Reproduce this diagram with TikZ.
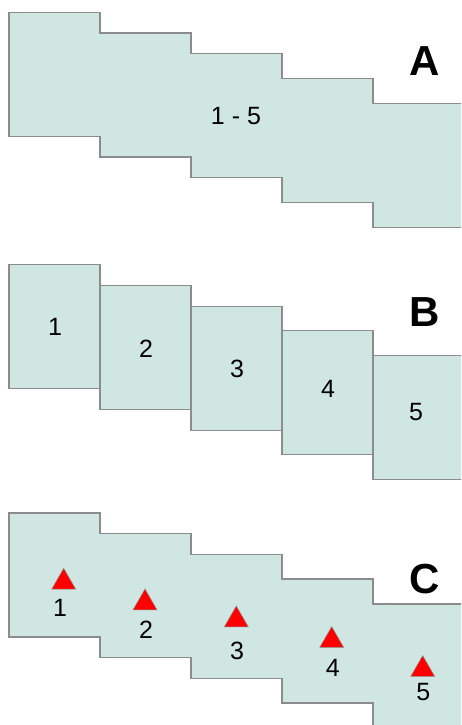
\documentclass[tikz,border=0pt]{standalone}
\usepackage{fontspec}
\setmainfont{Liberation Sans}
\usepackage{xcolor}
\usetikzlibrary{shapes.geometric}
\definecolor{plotFill}{RGB}{207,230,227}
\definecolor{edgeGray}{RGB}{140,140,140}
\definecolor{markRed}{RGB}{255,0,0}
\tikzset{
  plotcell/.style={fill=plotFill,draw=edgeGray,line width=1.1pt},
  treemark/.style={regular polygon,regular polygon sides=3,minimum size=27.7pt,inner sep=0pt,fill=markRed,draw=edgeGray,line width=0.5pt},
  numlabel/.style={font=\fontsize{25}{25}\selectfont,inner sep=0pt},
  panellabel/.style={font=\fontsize{42}{42}\selectfont\bfseries,inner sep=0pt}
}
% stepped plot outline, #1 = top of the first column
\newcommand{\StairPlot}[1]{%
  \draw[plotcell] (9,#1) -- (100,#1) -- (100,#1+20.7) -- (191,#1+20.7) -- (191,#1+41.5)
    -- (282,#1+41.5) -- (282,#1+66) -- (373,#1+66) -- (373,#1+91) -- (464,#1+91)
    -- (464,#1+215) -- (373,#1+215) -- (373,#1+190) -- (282,#1+190) -- (282,#1+165.5)
    -- (191,#1+165.5) -- (191,#1+144.7) -- (100,#1+144.7) -- (100,#1+124) -- (9,#1+124) -- cycle;}

\begin{document}
\begin{tikzpicture}[x=1pt,y=-1pt]
\clip (0,0) rectangle (461,725);
\fill[white] (0,0) rectangle (461,725);
% A: one plot
\StairPlot{12.3}
\node[numlabel] (rangeA) at (236,116) {1 - 5};
\node[panellabel] (labA) at (425,61) {A};
% B: five plots
\foreach \i/\dy in {1/0,2/20.7,3/41.5,4/66,5/91}
  \node[plotcell,numlabel,minimum width=91pt,minimum height=124pt] (box\i) at ({54.5+91*(\i-1)},{326.7+\dy}) {};
\foreach \i/\tx/\ty in {1/55/326.5,2/146/348.5,3/237/369,4/328/389,5/416/412}
  \node[numlabel] (num\i) at (\tx,\ty) {\i};
\node[panellabel] (labB) at (425,312) {B};
% C: one plot with stands
\StairPlot{513}
\foreach \i/\tx/\ty/\lx/\ly in {1/63.7/582.2/60/608,2/145/602.9/146/629.3,3/236.3/619.9/237/650.7,4/331.7/640.5/332.7/668.3,5/422.7/669.5/423.3/691.7}{
  \node[treemark] (tree\i) at (\tx,\ty) {};
  \node[numlabel] (treenum\i) at (\lx,\ly) {\i};
}
\node[panellabel] (labC) at (425,579) {C};
\end{tikzpicture}
\end{document}
